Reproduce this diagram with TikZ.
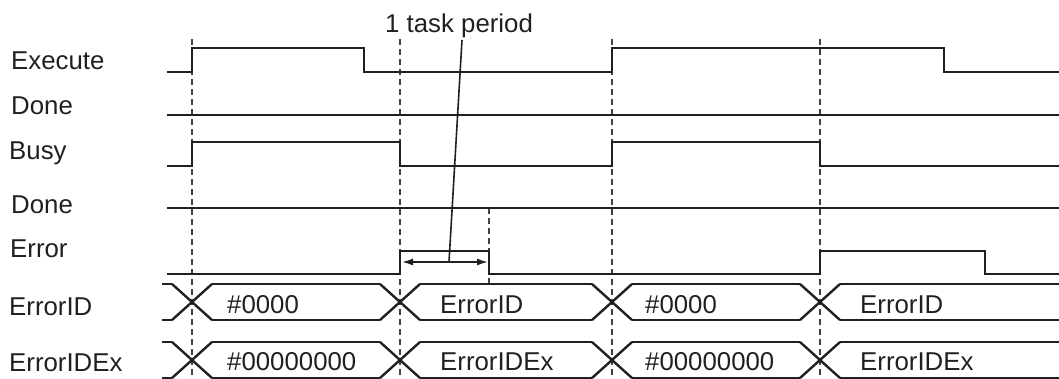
\documentclass[tikz,border=0pt]{standalone}
\usepackage{fontspec}
\setmainfont{Liberation Sans}
\usetikzlibrary{arrows.meta}
\definecolor{ink}{HTML}{231F20}
\begin{document}
\begin{tikzpicture}[x=1pt,y=-1pt,
  sig/.style={draw=ink,line width=2.8pt,line join=miter},
  bus/.style={draw=ink,line width=2.4pt},
  guide/.style={draw=ink!85,line width=1.1pt,dash pattern=on 6pt off 4pt},
  lbl/.style={anchor=base west,inner sep=0pt,text=ink,font=\fontsize{25.8}{30}\selectfont},
  val/.style={anchor=base west,inner sep=0pt,text=ink,font=\fontsize{25.8}{30}\selectfont},
  dim/.style={draw=ink,line width=1.6pt,{Latex[length=11pt,width=7pt]}-{Latex[length=11pt,width=7pt]}},
  leader/.style={draw=ink,line width=1.6pt}]
\useasboundingbox (0,0) rectangle (1059,378);
% labels
\node[lbl] (lExecute) at (11,69) {Execute};
\node[lbl] (lDone1) at (11,114) {Done};
\node[lbl] (lBusy) at (9,159) {Busy};
\node[lbl] (lDone2) at (11,213) {Done};
\node[lbl] (lError) at (10,257) {Error};
\node[lbl] (lErrorID) at (9,315) {ErrorID};
\node[lbl] (lErrorIDEx) at (9,371) {ErrorIDEx};
% guides
\foreach \gx in {192,400,612,820}{
  \draw[guide] (\gx,39) -- (\gx,378);
}
\draw[guide] (489,208) -- (489,284);
% signals
\draw[sig] (167,72) -- (192,72) -- (192,48) -- (364,48) -- (364,72) -- (612,72) -- (612,48) -- (944,48) -- (944,72) -- (1059,72);
\draw[sig] (167,115) -- (1059,115);
\draw[sig] (167,166) -- (192,166) -- (192,142) -- (400,142) -- (400,166) -- (612,166) -- (612,142) -- (820,142) -- (820,166) -- (1059,166);
\draw[sig] (167,208) -- (1059,208);
\draw[sig] (167,274) -- (400,274) -- (400,251) -- (489,251) -- (489,274) -- (820,274) -- (820,251) -- (985,251) -- (985,274) -- (1059,274);
% buses
\foreach \yc in {302,360}{
  \draw[bus] (162,\yc-18) -- (172,\yc-18);
  \draw[bus] (162,\yc+18) -- (172,\yc+18);
  \foreach \cx in {192,400,612,820}{
    \draw[bus] (\cx-20,\yc-18) -- (\cx+20,\yc+18);
    \draw[bus] (\cx-20,\yc+18) -- (\cx+20,\yc-18);
  }
  \foreach \a/\b in {212/380,420/592,632/800}{
    \draw[bus] (\a,\yc-18) -- (\b,\yc-18);
    \draw[bus] (\a,\yc+18) -- (\b,\yc+18);
  }
  \draw[bus] (840,\yc-18) -- (1059,\yc-18);
  \draw[bus] (840,\yc+18) -- (1059,\yc+18);
}
% bus values
\node[val] (v1) at (227,313) {\#0000};
\node[val] (v2) at (440,313) {ErrorID};
\node[val] (v3) at (645,313) {\#0000};
\node[val] (v4) at (860,313) {ErrorID};
\node[val] (w1) at (227,370) {\#00000000};
\node[val] (w2) at (440,370) {ErrorIDEx};
\node[val] (w3) at (645,370) {\#00000000};
\node[val] (w4) at (860,370) {ErrorIDEx};
% task period
\coordinate (pa) at (402,262);
\coordinate (pb) at (488,262);
\draw[dim] (pa) -- (pb);
\node[lbl] (tp) at (385,32) {1 task period};
\coordinate (lt) at (462,40);
\coordinate (lb) at (449,262);
\draw[leader] (lt) -- (lb);
\end{tikzpicture}
\end{document}
